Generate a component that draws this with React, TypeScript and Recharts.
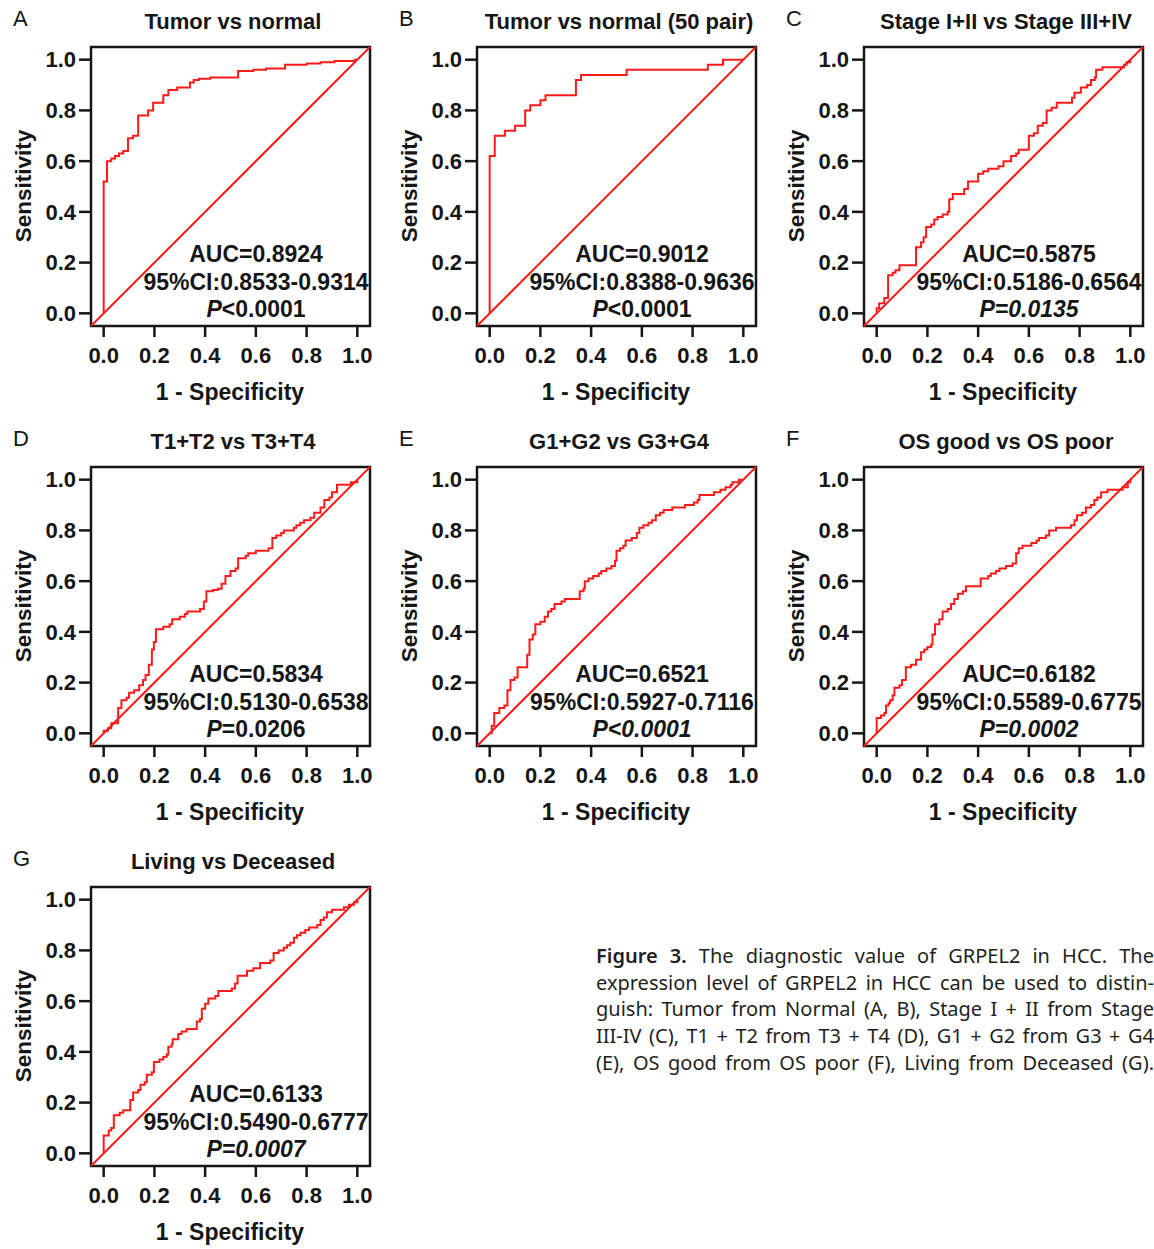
import { LineChart, Line, XAxis, YAxis, ReferenceLine, ReferenceArea } from "recharts";

const FONT = "'Liberation Sans', Arial, Helvetica, sans-serif";
const INK = "#161616";
const RED = "#ff1a1a";
const TICKS = [0, 0.2, 0.4, 0.6, 0.8, 1.0];
const DOMAIN: [number, number] = [-0.05, 1.05];

// ROC curves: at each fpr value the sensitivity rises to the matching tpr value
const fprA = [0, 0, 0.013, 0.03, 0.045, 0.06, 0.077, 0.096, 0.116, 0.136, 0.175, 0.195, 0.235, 0.255, 0.29, 0.34, 0.355, 0.375, 0.42, 0.53, 0.59, 0.64, 0.715, 0.8, 0.855, 0.91, 0.99, 1.0];
const tprA = [0, 0.52, 0.6, 0.61, 0.62, 0.63, 0.64, 0.69, 0.7, 0.78, 0.8, 0.83, 0.86, 0.88, 0.89, 0.91, 0.92, 0.925, 0.93, 0.955, 0.96, 0.965, 0.98, 0.985, 0.99, 0.995, 1.0, 1.0];

const fprB = [0, 0, 0.02, 0.06, 0.1, 0.14, 0.16, 0.2, 0.22, 0.34, 0.36, 0.54, 0.86, 0.92, 1.0];
const tprB = [0, 0.62, 0.7, 0.72, 0.74, 0.8, 0.82, 0.84, 0.86, 0.92, 0.94, 0.96, 0.98, 1.0, 1.0];

const fprC = [0, 0, 0.01, 0.03, 0.045, 0.063, 0.074, 0.09, 0.155, 0.175, 0.185, 0.195, 0.215, 0.227, 0.24, 0.26, 0.28, 0.286, 0.3, 0.345, 0.36, 0.4, 0.42, 0.44, 0.48, 0.5, 0.53, 0.55, 0.56, 0.6, 0.62, 0.635, 0.655, 0.67, 0.69, 0.71, 0.77, 0.78, 0.805, 0.83, 0.845, 0.86, 0.865, 0.89, 0.975, 0.985, 1.0];
const tprC = [0, 0.02, 0.04, 0.06, 0.15, 0.16, 0.17, 0.19, 0.26, 0.28, 0.3, 0.34, 0.35, 0.37, 0.38, 0.39, 0.4, 0.45, 0.47, 0.49, 0.52, 0.55, 0.56, 0.57, 0.58, 0.6, 0.62, 0.63, 0.645, 0.7, 0.71, 0.74, 0.75, 0.8, 0.81, 0.83, 0.85, 0.87, 0.89, 0.9, 0.92, 0.93, 0.96, 0.97, 0.98, 0.99, 1.0];

const fprD = [0, 0, 0.017, 0.03, 0.057, 0.07, 0.09, 0.1, 0.12, 0.14, 0.155, 0.165, 0.178, 0.19, 0.198, 0.206, 0.235, 0.26, 0.27, 0.3, 0.32, 0.33, 0.38, 0.395, 0.405, 0.43, 0.45, 0.465, 0.48, 0.5, 0.52, 0.53, 0.56, 0.57, 0.6, 0.65, 0.665, 0.68, 0.7, 0.71, 0.75, 0.76, 0.775, 0.79, 0.815, 0.83, 0.855, 0.87, 0.89, 0.9, 0.92, 0.975, 1.0];
const tprD = [0, 0.01, 0.02, 0.04, 0.1, 0.13, 0.14, 0.16, 0.17, 0.19, 0.21, 0.23, 0.27, 0.33, 0.36, 0.41, 0.42, 0.43, 0.45, 0.46, 0.47, 0.48, 0.49, 0.52, 0.56, 0.565, 0.57, 0.59, 0.62, 0.64, 0.65, 0.69, 0.7, 0.71, 0.72, 0.73, 0.77, 0.78, 0.79, 0.8, 0.81, 0.82, 0.83, 0.84, 0.85, 0.87, 0.89, 0.92, 0.93, 0.95, 0.98, 0.99, 1.0];

const fprE = [0, 0.008, 0.018, 0.038, 0.058, 0.07, 0.082, 0.098, 0.11, 0.148, 0.157, 0.17, 0.18, 0.2, 0.217, 0.23, 0.243, 0.256, 0.283, 0.296, 0.355, 0.37, 0.375, 0.39, 0.408, 0.43, 0.44, 0.46, 0.48, 0.494, 0.5, 0.514, 0.527, 0.536, 0.56, 0.58, 0.59, 0.606, 0.626, 0.64, 0.655, 0.672, 0.686, 0.72, 0.77, 0.805, 0.82, 0.827, 0.884, 0.91, 0.93, 0.95, 0.957, 0.983, 1.0];
const tprE = [0, 0.03, 0.08, 0.1, 0.11, 0.17, 0.21, 0.22, 0.26, 0.31, 0.37, 0.39, 0.43, 0.44, 0.46, 0.48, 0.49, 0.51, 0.52, 0.53, 0.56, 0.57, 0.6, 0.61, 0.62, 0.63, 0.64, 0.65, 0.66, 0.68, 0.72, 0.73, 0.74, 0.76, 0.77, 0.79, 0.81, 0.82, 0.83, 0.84, 0.86, 0.87, 0.88, 0.89, 0.9, 0.91, 0.92, 0.94, 0.95, 0.96, 0.97, 0.98, 0.99, 1.0, 1.0];

const fprF = [0, 0, 0.017, 0.03, 0.037, 0.047, 0.053, 0.063, 0.07, 0.09, 0.1, 0.115, 0.135, 0.155, 0.175, 0.188, 0.2, 0.215, 0.22, 0.23, 0.247, 0.26, 0.28, 0.293, 0.306, 0.32, 0.34, 0.352, 0.41, 0.44, 0.45, 0.47, 0.484, 0.51, 0.536, 0.55, 0.56, 0.575, 0.61, 0.63, 0.64, 0.667, 0.68, 0.707, 0.766, 0.78, 0.79, 0.81, 0.825, 0.845, 0.858, 0.87, 0.885, 0.91, 0.97, 0.99, 1.0];
const tprF = [0, 0.06, 0.07, 0.08, 0.11, 0.12, 0.13, 0.15, 0.18, 0.19, 0.21, 0.26, 0.27, 0.29, 0.32, 0.33, 0.34, 0.35, 0.39, 0.43, 0.45, 0.48, 0.49, 0.51, 0.53, 0.55, 0.56, 0.58, 0.61, 0.62, 0.63, 0.64, 0.65, 0.66, 0.67, 0.71, 0.73, 0.74, 0.75, 0.76, 0.77, 0.78, 0.8, 0.81, 0.82, 0.84, 0.86, 0.87, 0.89, 0.9, 0.92, 0.93, 0.95, 0.96, 0.97, 0.99, 1.0];

const fprG = [0, 0, 0.02, 0.03, 0.04, 0.063, 0.077, 0.105, 0.116, 0.136, 0.145, 0.162, 0.17, 0.19, 0.198, 0.22, 0.235, 0.248, 0.255, 0.268, 0.272, 0.294, 0.307, 0.327, 0.367, 0.38, 0.387, 0.4, 0.413, 0.44, 0.452, 0.505, 0.518, 0.528, 0.565, 0.59, 0.617, 0.657, 0.67, 0.69, 0.71, 0.723, 0.736, 0.75, 0.762, 0.776, 0.795, 0.81, 0.842, 0.855, 0.868, 0.88, 0.9, 0.947, 0.967, 0.987, 1.0];
const tprG = [0, 0.07, 0.09, 0.1, 0.15, 0.16, 0.17, 0.21, 0.24, 0.25, 0.27, 0.28, 0.31, 0.32, 0.36, 0.37, 0.38, 0.39, 0.42, 0.43, 0.45, 0.47, 0.48, 0.49, 0.52, 0.53, 0.57, 0.59, 0.61, 0.62, 0.64, 0.65, 0.67, 0.7, 0.72, 0.73, 0.75, 0.76, 0.79, 0.8, 0.81, 0.82, 0.83, 0.85, 0.86, 0.87, 0.88, 0.89, 0.9, 0.92, 0.93, 0.95, 0.96, 0.97, 0.98, 0.99, 1.0];

const PANELS = [
  { letter: "A", title: "Tumor vs normal", fpr: fprA, tpr: tprA, auc: "AUC=0.8924", ci: "95%CI:0.8533-0.9314", p: "<0.0001", pItalic: false, col: 0, row: 0 },
  { letter: "B", title: "Tumor vs normal (50 pair)", fpr: fprB, tpr: tprB, auc: "AUC=0.9012", ci: "95%CI:0.8388-0.9636", p: "<0.0001", pItalic: false, col: 1, row: 0 },
  { letter: "C", title: "Stage I+II vs Stage III+IV", fpr: fprC, tpr: tprC, auc: "AUC=0.5875", ci: "95%CI:0.5186-0.6564", p: "=0.0135", pItalic: true, col: 2, row: 0 },
  { letter: "D", title: "T1+T2 vs T3+T4", fpr: fprD, tpr: tprD, auc: "AUC=0.5834", ci: "95%CI:0.5130-0.6538", p: "=0.0206", pItalic: false, col: 0, row: 1 },
  { letter: "E", title: "G1+G2 vs G3+G4", fpr: fprE, tpr: tprE, auc: "AUC=0.6521", ci: "95%CI:0.5927-0.7116", p: "<0.0001", pItalic: true, col: 1, row: 1 },
  { letter: "F", title: "OS good vs OS poor", fpr: fprF, tpr: tprF, auc: "AUC=0.6182", ci: "95%CI:0.5589-0.6775", p: "=0.0002", pItalic: true, col: 2, row: 1 },
  { letter: "G", title: "Living vs Deceased", fpr: fprG, tpr: tprG, auc: "AUC=0.6133", ci: "95%CI:0.5490-0.6777", p: "=0.0007", pItalic: true, col: 0, row: 2 },
];

const COL_X = [0, 386, 773];
const ROW_Y = [0, 420, 840];

const CAPTION = [
  "The diagnostic value of GRPEL2 in HCC. The",
  "expression level of GRPEL2 in HCC can be used to distin-",
  "guish: Tumor from Normal (A, B), Stage I + II from Stage",
  "III-IV (C), T1 + T2 from T3 + T4 (D), G1 + G2 from G3 + G4",
  "(E), OS good from OS poor (F), Living from Deceased (G).",
];

const fmt = (v: number) => v.toFixed(1);
const tickStyle = { fill: INK, fontSize: 22, fontWeight: 700, fontFamily: FONT };
const tickLineStyle = { stroke: INK, strokeWidth: 2.5 };

const RocPanel = ({ p }: any) => {
  const data = p.fpr.map((x: number, i: number) => ({ x, y: p.tpr[i] }));
  return (
    <div style={{ position: "absolute", left: COL_X[p.col], top: ROW_Y[p.row], width: 380, height: 410 }}>
      <LineChart width={380} height={410} data={data} margin={{ top: 47, right: 10, bottom: 44, left: 0 }}>
        <XAxis
          dataKey="x"
          type="number"
          domain={DOMAIN}
          allowDataOverflow
          ticks={TICKS}
          interval={0}
          tickFormatter={fmt}
          axisLine={false}
          tickSize={11}
          tickMargin={10}
          height={40}
          tick={tickStyle}
          tickLine={tickLineStyle}
        />
        <YAxis
          type="number"
          domain={DOMAIN}
          allowDataOverflow
          ticks={TICKS}
          interval={0}
          tickFormatter={fmt}
          axisLine={false}
          tickSize={12}
          tickMargin={3}
          width={91}
          tick={tickStyle}
          tickLine={tickLineStyle}
        />
        <ReferenceLine
          segment={[{ x: -0.05, y: -0.05 }, { x: 1.05, y: 1.05 }]}
          stroke={RED}
          strokeWidth={2}
          ifOverflow="visible"
        />
        <Line type="stepAfter" dataKey="y" stroke={RED} strokeWidth={2} dot={false} isAnimationActive={false} />
        <ReferenceArea
          x1={-0.05}
          x2={1.05}
          y1={-0.05}
          y2={1.05}
          fill="none"
          fillOpacity={0}
          stroke={INK}
          strokeWidth={2.5}
          ifOverflow="visible"
        />
      </LineChart>
      <svg width={380} height={410} style={{ position: "absolute", left: 0, top: 0, pointerEvents: "none" }} fontFamily={FONT} fill={INK}>
        <text x={13} y={26} fontSize={22}>{p.letter}</text>
        <text x={233} y={28.5} fontSize={22} fontWeight={700} textAnchor="middle">{p.title}</text>
        <text transform="translate(31,186) rotate(-90)" fontSize={22.5} fontWeight={700} textAnchor="middle">Sensitivity</text>
        <text x={230} y={400} fontSize={23} fontWeight={700} textAnchor="middle">1 - Specificity</text>
        <g fontSize={23} fontWeight={700} textAnchor="middle">
          <text x={256} y={262}>{p.auc}</text>
          <text x={256} y={290}>{p.ci}</text>
          <text x={256} y={317} fontStyle={p.pItalic ? "italic" : "normal"}>
            <tspan fontStyle="italic">P</tspan>
            {p.p}
          </text>
        </g>
      </svg>
    </div>
  );
};

export default function App() {
  return (
    <div style={{ position: "absolute", left: 0, top: 0, width: 1154, height: 1249, background: "#fff" }}>
      {PANELS.map((p) => (
        <RocPanel key={p.letter} p={p} />
      ))}
      <div
        style={{
          position: "absolute",
          left: 596,
          top: 943,
          width: 558,
          fontFamily: "'Noto Sans', Roboto, sans-serif",
          fontSize: 20,
          lineHeight: "26.7px",
          color: "#231f20",
        }}
      >
        {CAPTION.map((line, i) => (
          <div key={i} style={{ textAlign: "justify", textAlignLast: "justify", whiteSpace: "nowrap" }}>
            {i === 0 && <span style={{ fontWeight: 600 }}>Figure 3. </span>}
            {line}
          </div>
        ))}
      </div>
    </div>
  );
}
